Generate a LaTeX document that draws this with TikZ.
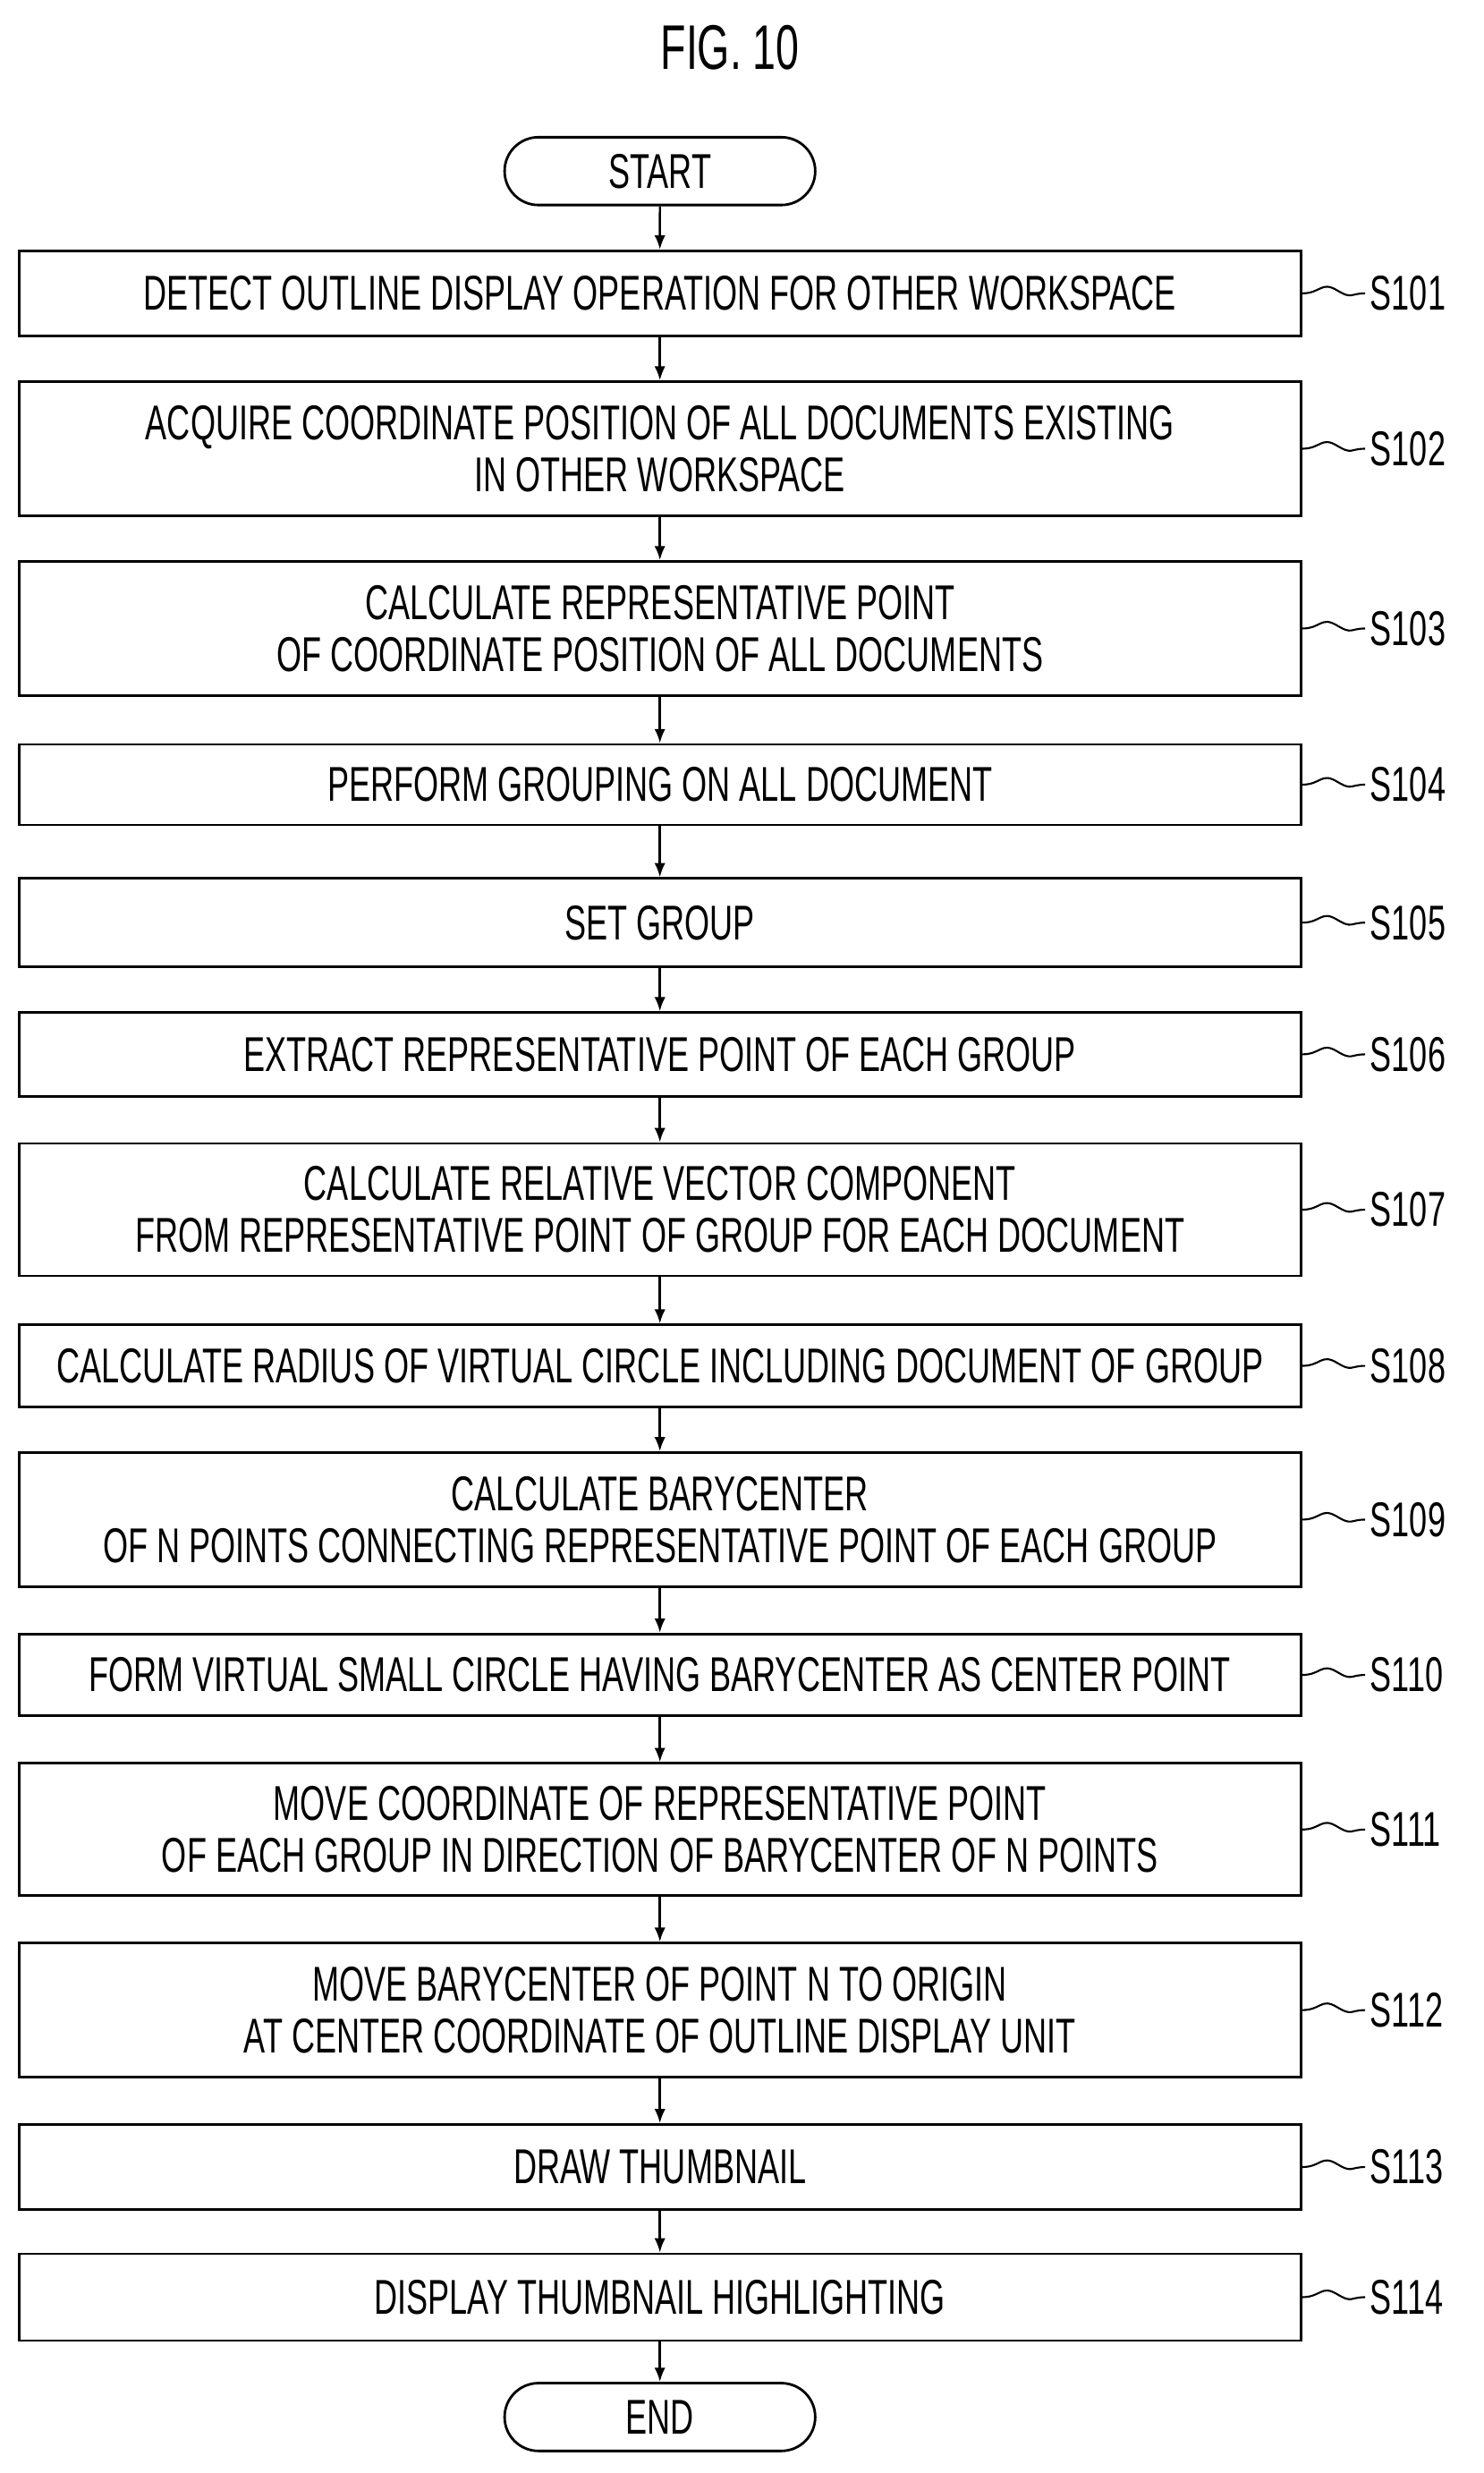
\documentclass[tikz,border=0pt]{standalone}
\usepackage{fontspec}
\setmainfont[FakeStretch=0.66]{Liberation Sans}
\usetikzlibrary{shapes.misc,arrows.meta}
\begin{document}
\begin{tikzpicture}[x=1pt,y=-1pt,
  stepbox/.style={draw,line width=1.6pt,minimum width=813pt,inner sep=0pt,align=center,font=\fontsize{31}{33}\selectfont},
  term/.style={draw,line width=1.6pt,rounded rectangle,minimum width=197pt,minimum height=43pt,inner sep=0pt,font=\fontsize{31}{33}\selectfont},
  lab/.style={anchor=west,font=\fontsize{31}{33}\selectfont,inner sep=0pt},
  arr/.style={line width=1.4pt,-{Latex[length=9pt,width=7pt]}}]
\useasboundingbox (0,0) rectangle (941,1568);
\node[font=\fontsize{40}{44}\selectfont] (title) at (463,30) {FIG. 10};
\node[term] (start) at (418.5,108.5) {START};
\node[term] (end) at (418.5,1532.5) {END};
\def\S#1#2#3#4{\node[stepbox,minimum height=#3-#2] (s#1) at (418.5,{(#2+#3)/2}) {#4};
  \draw[line width=1.2pt] (s#1.east) .. controls +(12,0) and +(-10,-6) .. +(22,-2) .. controls +(10,6) and +(-10,0) .. +(40,0) coordinate (c#1);
  \node[lab] (l#1) at ([xshift=3pt]c#1) {S#1};}
\S{101}{159}{213}{DETECT OUTLINE DISPLAY OPERATION FOR OTHER WORKSPACE}
\S{102}{242}{327}{ACQUIRE COORDINATE POSITION OF ALL DOCUMENTS EXISTING\\IN OTHER WORKSPACE}
\S{103}{356}{441}{CALCULATE REPRESENTATIVE POINT\\OF COORDINATE POSITION OF ALL DOCUMENTS}
\S{104}{472}{523}{PERFORM GROUPING ON ALL DOCUMENT}
\S{105}{557}{613}{SET GROUP}
\S{106}{642}{695}{EXTRACT REPRESENTATIVE POINT OF EACH GROUP}
\S{107}{725}{809}{CALCULATE RELATIVE VECTOR COMPONENT\\FROM REPRESENTATIVE POINT OF GROUP FOR EACH DOCUMENT}
\S{108}{840}{892}{CALCULATE RADIUS OF VIRTUAL CIRCLE INCLUDING DOCUMENT OF GROUP}
\S{109}{921}{1006}{CALCULATE BARYCENTER\\OF N POINTS CONNECTING REPRESENTATIVE POINT OF EACH GROUP}
\S{110}{1036}{1088}{FORM VIRTUAL SMALL CIRCLE HAVING BARYCENTER AS CENTER POINT}
\S{111}{1118}{1202}{MOVE COORDINATE OF REPRESENTATIVE POINT\\OF EACH GROUP IN DIRECTION OF BARYCENTER OF N POINTS}
\S{112}{1232}{1317}{MOVE BARYCENTER OF POINT N TO ORIGIN\\AT CENTER COORDINATE OF OUTLINE DISPLAY UNIT}
\S{113}{1347}{1401}{DRAW THUMBNAIL}
\S{114}{1429}{1484}{DISPLAY THUMBNAIL HIGHLIGHTING}
\draw[arr] (start) -- (s101);
\foreach \a/\b in {101/102,102/103,103/104,104/105,105/106,106/107,107/108,108/109,109/110,110/111,111/112,112/113,113/114}
  \draw[arr] (s\a) -- (s\b);
\draw[arr] (s114) -- (end);
\end{tikzpicture}
\end{document}
